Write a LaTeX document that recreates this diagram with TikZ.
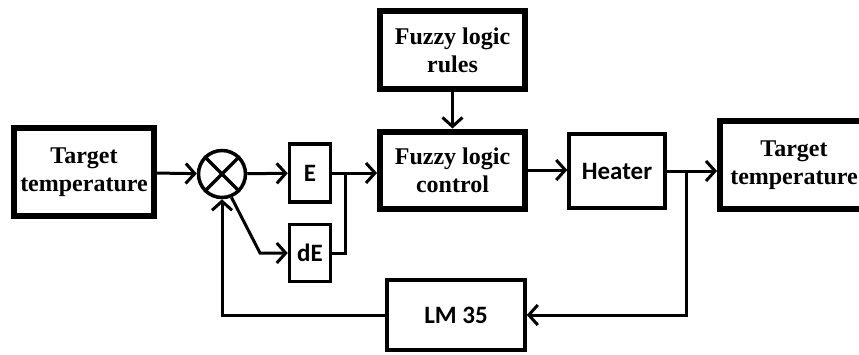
\documentclass[tikz,border=0pt]{standalone}
\usepackage{fontspec}
\setmainfont{Liberation Serif}
\newfontfamily\labelfont{Carlito}
\usetikzlibrary{arrows.meta,calc}

\begin{document}
\begin{tikzpicture}[x=1pt,y=-1pt,
  >={Straight Barb[length=9pt,width=20pt]},
  line width=3pt,
  heavy/.style={draw,rectangle,line width=6pt,inner sep=0pt,align=center,
    font=\fontsize{24}{28}\selectfont\bfseries},
  light/.style={draw,rectangle,line width=3.5pt,inner sep=0pt,align=center,
    font=\fontsize{25}{28}\selectfont\labelfont\bfseries}]
\useasboundingbox (0,0) rectangle (859,354);

\node[heavy, minimum width=140pt, minimum height=88pt] (target_in) at (84,172) {Target\\temperature};
\node[draw, circle, line width=3.5pt, minimum size=47pt, inner sep=0pt] (sum) at (222,174) {};
\node[light, minimum width=41pt, minimum height=58pt] (err) at (310,173) {E};
\node[light, minimum width=41pt, minimum height=57pt] (derr) at (310,253) {dE};
\node[heavy, minimum width=145pt, minimum height=78pt] (rules) at (452.5,50) {Fuzzy logic\\rules};
\node[heavy, minimum width=145pt, minimum height=77pt] (flc) at (452.5,170) {Fuzzy logic\\control};
\node[light, minimum width=96pt, minimum height=74pt] (heater) at (617,171) {Heater};
\node[heavy, minimum width=148pt, minimum height=88pt] (target_out) at (794,165) {Target\\temperature};
\node[light, minimum width=138pt, minimum height=70pt] (lm35) at (456,315) {LM 35};

% cross in the comparator
\draw[line width=3.5pt] (sum.north west) -- (sum.south east)
  (sum.north east) -- (sum.south west);

\coordinate (bend) at (260,253);
\coordinate (join) at (345,173);
\coordinate (tap) at (686,171);

\path[->]
(target_in) edge (sum)
(sum) edge (err)
(rules) edge (flc)
; %end path

\draw[->] (sum.-68) -- (bend) -- (derr.west);
\draw (err.east) -- (join);
\draw (derr.east) -| (join);
\draw[->] (join) -- (join -| flc.west);
\draw[->] (flc.east) -- (flc.east -| heater.west);
\draw[->] (heater.east) -- (heater.east -| target_out.west);
\draw[->] (tap) |- (lm35.east);
\draw[->] (lm35.west) -| (sum.south);
\end{tikzpicture}
\end{document}
